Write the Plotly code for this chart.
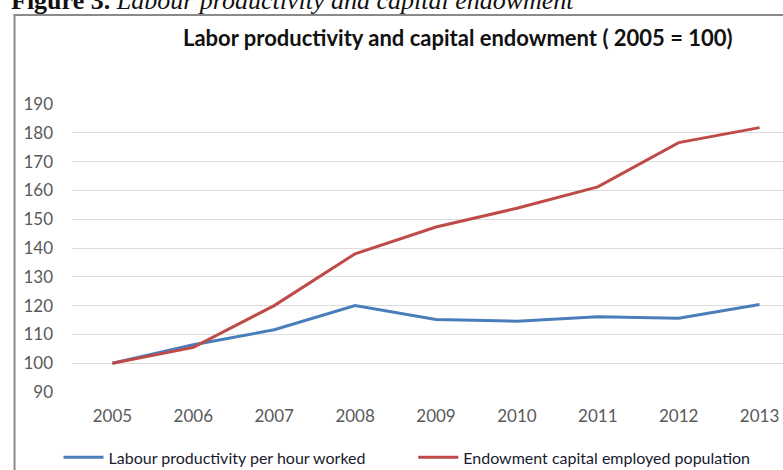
import plotly.graph_objects as go

years = ["2005", "2006", "2007", "2008", "2009", "2010", "2011", "2012", "2013"]
labour_productivity = [100.0, 106.4, 111.6, 120.0, 115.2, 114.6, 116.1, 115.6, 120.4]
capital_endowment = [100.0, 105.5, 120.0, 138.0, 147.3, 153.8, 161.2, 176.6, 181.8]

series_names = ["Labour productivity per hour worked", "Endowment capital employed population"]
series_colors = ["#4a7ebb", "#be4b48"]
legend_ids = ["legend", "legend2"]

W, H = 783, 470
PL, PR, PT, PB = 71.5, 783.0, 104.0, 391.7


def px(x):
    return (x - PL) / (PR - PL)


def py(y):
    return (PB - y) / (PB - PT)


fig = go.Figure()
for name, vals, col, lg in zip(series_names, [labour_productivity, capital_endowment],
                               series_colors, legend_ids):
    fig.add_trace(go.Scatter(
        x=list(range(len(years))), y=vals, name=name, mode="lines",
        line=dict(color=col, width=3), legend=lg,
    ))

legend_style = dict(
    orientation="h", xanchor="left", yanchor="middle",
    font=dict(family="Lato", size=16, color="#1a1a2e"),
    itemwidth=40, bgcolor="rgba(0,0,0,0)",
)

fig.update_layout(
    width=W, height=H,
    margin=dict(l=PL, r=W - PR, t=PT, b=H - PB, autoexpand=False),
    paper_bgcolor="white", plot_bgcolor="white",
    font=dict(family="Lato", color="#595959"),
    showlegend=True,
    legend=dict(legend_style, x=px(58), y=py(457)),
    legend2=dict(legend_style, x=px(413), y=py(457)),
    xaxis=dict(
        range=[-0.5, 8.29], tickmode="array", tickvals=list(range(len(years))),
        ticktext=years, showgrid=False, zeroline=False, showline=False,
        tickfont=dict(size=17, color="#595959"), ticklabelstandoff=12,
    ),
    yaxis=dict(
        range=[90, 190], tickmode="array", tickvals=list(range(90, 191, 10)),
        showgrid=True, gridcolor="#dcdcdc", gridwidth=1.3, zeroline=False,
        showline=False, tickfont=dict(size=17, color="#595959"),
        ticklabelstandoff=18,
    ),
    annotations=[
        dict(
            text="<b>Labor productivity and capital endowment ( 2005 = 100)</b>",
            xref="paper", yref="paper", x=px(458), y=py(38), xanchor="center",
            yanchor="middle", showarrow=False,
            font=dict(family="Lato", size=22, color="#111111"),
        ),
        dict(
            text="<b>Figure 3.</b> <i>Labour productivity and capital endowment</i>",
            xref="paper", yref="paper", x=px(8), y=py(1), xanchor="left",
            yanchor="middle", showarrow=False,
            font=dict(family="Liberation Serif", size=26, color="#111111"),
        ),
    ],
    shapes=[
        dict(type="line", xref="paper", yref="paper", x0=px(14), x1=px(14),
             y0=py(15), y1=py(475), line=dict(color="#8a8a8a", width=2)),
        dict(type="line", xref="paper", yref="paper", x0=px(13), x1=px(790),
             y0=py(15), y1=py(15), line=dict(color="#8a8a8a", width=2)),
    ],
)

fig.write_html("out.html")
